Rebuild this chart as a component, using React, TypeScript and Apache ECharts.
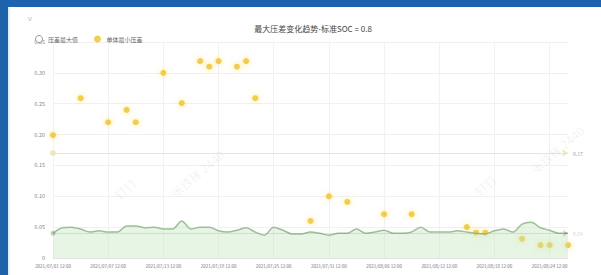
import React, { useEffect, useRef } from "react";
import * as echarts from "echarts";

const categories: string[] = [
  "2021/07/01 12:00", "2021/07/02 12:00", "2021/07/03 12:00", "2021/07/04 12:00", "2021/07/05 12:00",
  "2021/07/06 12:00", "2021/07/07 12:00", "2021/07/08 12:00", "2021/07/09 12:00", "2021/07/10 12:00",
  "2021/07/11 12:00", "2021/07/12 12:00", "2021/07/13 12:00", "2021/07/14 12:00", "2021/07/15 12:00",
  "2021/07/16 12:00", "2021/07/17 12:00", "2021/07/18 12:00", "2021/07/19 12:00", "2021/07/20 12:00",
  "2021/07/21 12:00", "2021/07/22 12:00", "2021/07/23 12:00", "2021/07/24 12:00", "2021/07/25 12:00",
  "2021/07/26 12:00", "2021/07/27 12:00", "2021/07/28 12:00", "2021/07/29 12:00", "2021/07/30 12:00",
  "2021/07/31 12:00", "2021/08/01 12:00", "2021/08/02 12:00", "2021/08/03 12:00", "2021/08/04 12:00",
  "2021/08/05 12:00", "2021/08/06 12:00", "2021/08/07 12:00", "2021/08/08 12:00", "2021/08/09 12:00",
  "2021/08/10 12:00", "2021/08/11 12:00", "2021/08/12 12:00", "2021/08/13 12:00", "2021/08/14 12:00",
  "2021/08/15 12:00", "2021/08/16 12:00", "2021/08/17 12:00", "2021/08/18 12:00", "2021/08/19 12:00",
  "2021/08/20 12:00", "2021/08/21 12:00", "2021/08/22 12:00", "2021/08/23 12:00", "2021/08/24 12:00",
  "2021/08/25 12:00", "2021/08/26 12:00",
];

const lineValues: number[] = [
  0.040, 0.049, 0.050, 0.047, 0.042, 0.044, 0.042, 0.042, 0.052, 0.052,
  0.049, 0.050, 0.047, 0.047, 0.060, 0.047, 0.050, 0.050, 0.044, 0.042,
  0.045, 0.049, 0.042, 0.037, 0.050, 0.045, 0.039, 0.039, 0.042, 0.040,
  0.037, 0.040, 0.040, 0.047, 0.040, 0.042, 0.045, 0.040, 0.040, 0.042,
  0.050, 0.042, 0.042, 0.042, 0.044, 0.042, 0.040, 0.039, 0.044, 0.047,
  0.042, 0.055, 0.058, 0.049, 0.045, 0.040, 0.040,
];

const scatterIndex: number[] = [0, 3, 6, 8, 9, 12, 14, 16, 17, 18, 20, 21, 22, 28, 30, 32, 36, 39, 45, 46, 47, 51, 53, 54, 56];
const scatterValues: number[] = [
  0.199, 0.259, 0.220, 0.240, 0.220, 0.300, 0.251, 0.319, 0.310, 0.319,
  0.310, 0.319, 0.259, 0.060, 0.100, 0.091, 0.071, 0.071, 0.050, 0.041,
  0.041, 0.031, 0.021, 0.021, 0.021,
];

const seriesNames: string[] = ["压差最大值", "单体最小压差"];
const markValues: number[] = [0.042, 0.17];
const titleText = "最大压差变化趋势-标准SOC = 0.8";
const unitText = "V";
const watermarks: string[] = ["钉钉", "张铁锋 2440"];

export default function App() {
  const ref = useRef<HTMLDivElement>(null);
  useEffect(() => {
    if (!ref.current) return;
    const chart = echarts.init(ref.current, null, { renderer: "svg" });
    const scatterData = scatterIndex.map((idx, k) => [categories[idx], scatterValues[k]]);
    const wmStyle = { fill: "rgba(0,0,0,0.07)", fontSize: 12, fontFamily: "Noto Sans CJK SC" };
    chart.setOption({
      animation: false,
      backgroundColor: "#ffffff",
      textStyle: { fontFamily: "Noto Sans CJK SC" },
      title: {
        text: titleText,
        left: 308,
        top: 19,
        textAlign: "center",
        textStyle: { fontSize: 8, color: "#444", fontWeight: "normal" },
      },
      legend: {
        left: 30,
        top: 30,
        itemWidth: 8,
        itemHeight: 7,
        itemGap: 16,
        textStyle: { fontSize: 6, color: "#666" },
        data: [
          {
            name: seriesNames[0],
            icon: "circle",
            itemStyle: { color: "#ffffff", borderColor: "#9a9a9a", borderWidth: 1 },
          },
          { name: seriesNames[1], icon: "circle", itemStyle: { color: "#f2c21b" } },
        ],
      },
      grid: { left: 53, right: 33, top: 42, bottom: 17 },
      xAxis: {
        type: "category",
        data: categories,
        boundaryGap: false,
        axisLine: { lineStyle: { color: "#e4e4e4" } },
        axisTick: { show: false },
        axisLabel: { interval: 5, fontSize: 4.5, color: "#777", margin: 6 },
        splitLine: { show: true, interval: 5, lineStyle: { color: "#f2f2f2" } },
      },
      yAxis: {
        type: "value",
        min: 0,
        max: 0.35,
        interval: 0.05,
        axisLine: { show: false },
        axisTick: { show: false },
        axisLabel: {
          fontSize: 5.5,
          color: "#888",
          margin: 8,
          formatter: (v: number) => (v === 0 ? "0" : v.toFixed(2)),
        },
        splitLine: { lineStyle: { color: "#f0f0f0" } },
      },
      graphic: [
        { type: "rect", left: 0, top: 0, shape: { width: 8, height: 275 }, style: { fill: "#1f62aa" }, z: 100 },
        { type: "rect", left: 0, top: 0, shape: { width: 601, height: 7 }, style: { fill: "#1d63b0" }, z: 100 },
        { type: "rect", left: 8, top: 7, shape: { width: 2, height: 268 }, style: { fill: "#e9eef5" }, z: 100 },
        { type: "text", x: 28, y: 16, style: { text: unitText, fontSize: 6, fill: "#e8a090" }, z: 100 },
        { type: "text", x: 112, y: 192, rotation: 0.7, style: { ...wmStyle, text: watermarks[0] }, z: 50 },
        { type: "text", x: 168, y: 190, rotation: 0.7, style: { ...wmStyle, text: watermarks[1] }, z: 50 },
        { type: "text", x: 472, y: 188, rotation: 0.7, style: { ...wmStyle, text: watermarks[0] }, z: 50 },
        { type: "text", x: 528, y: 166, rotation: 0.7, style: { ...wmStyle, text: watermarks[1] }, z: 50 },
      ],
      series: [
        {
          name: seriesNames[0],
          type: "line",
          data: lineValues,
          smooth: 0.3,
          symbol: "none",
          lineStyle: { color: "#9cbf98", width: 1.5 },
          itemStyle: { color: "#9cbf98" },
          areaStyle: { color: "rgba(190,228,184,0.55)" },
          markLine: {
            symbol: ["circle", "arrow"],
            symbolSize: 5,
            silent: true,
            lineStyle: { color: "#6a8a66", width: 0.5, type: "solid", opacity: 0.4 },
            itemStyle: { color: "#4e6b4a" },
            label: { fontSize: 5, color: "#888", formatter: (p: any) => Number(p.value).toFixed(2) },
            data: [{ yAxis: markValues[0] }],
          },
        },
        {
          name: seriesNames[1],
          type: "scatter",
          data: scatterData,
          symbolSize: 6,
          itemStyle: {
            color: "#f2c21b",
            shadowBlur: 6,
            shadowColor: "rgba(245,200,40,0.6)",
          },
          markLine: {
            symbol: ["circle", "arrow"],
            symbolSize: 6,
            silent: true,
            lineStyle: { color: "#f1e6b6", width: 1, type: "solid" },
            itemStyle: { color: "#e3c033" },
            label: { fontSize: 5, color: "#999", formatter: (p: any) => Number(p.value).toFixed(2) },
            data: [{ yAxis: markValues[1] }],
          },
        },
      ],
    });
    return () => chart.dispose();
  }, []);
  return (
    <div
      ref={ref}
      style={{ position: "fixed", left: 0, top: 0, width: 601, height: 275 }}
    />
  );
}
